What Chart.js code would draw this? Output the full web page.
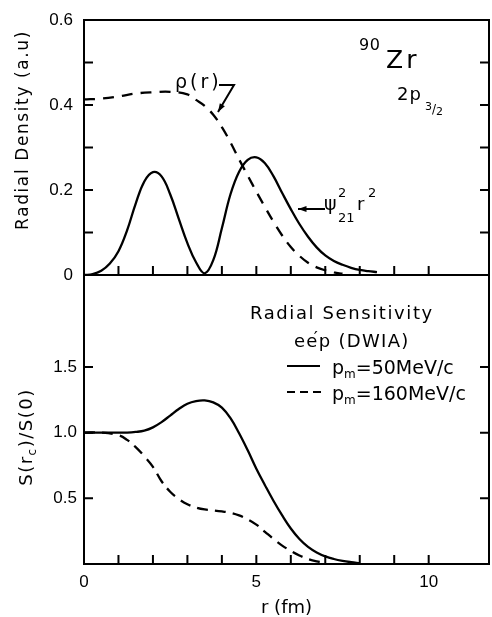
<!DOCTYPE html>
<html><head><meta charset="utf-8">
<script src="https://cdn.jsdelivr.net/npm/chart.js@4/dist/chart.umd.min.js"></script>
<style>
html,body{margin:0;padding:0;background:#fff;}
#wrap{position:relative;width:492px;height:617px;overflow:hidden;background:#fff;}
#cTop{position:absolute;left:0;top:0;}
#cBot{position:absolute;left:0;top:270px;}
</style></head><body>
<div id="wrap">
<canvas id="cTop" width="492" height="280"></canvas>
<canvas id="cBot" width="492" height="347"></canvas>
</div>
<script>
// ---------- data ----------
const xMax = 11.75;
const xLabelled = [0, 5, 10];
const topYLabelled = [0, 0.2, 0.4, 0.6];
const botYTicks = [0.5, 1.0, 1.5];

// upper panel: psi^2_21 r^2 (solid) and rho(r) (dashed)
const rPsi  = [0,0.25,0.5,0.75,1,1.25,1.5,1.75,2,2.25,2.5,2.75,3,3.25,3.5,3.75,4,4.25,4.5,4.75,5,5.25,5.5,5.75,6,6.25,6.5,6.75,7,7.25,7.5,7.75,8,8.25,8.5];
const psiSq = [0,0.002,0.01,0.027,0.056,0.105,0.168,0.22,0.242,0.232,0.19,0.132,0.075,0.03,0.004,0.035,0.11,0.19,0.243,0.271,0.277,0.263,0.232,0.193,0.155,0.12,0.09,0.065,0.046,0.033,0.024,0.017,0.012,0.009,0.007];
const rRho  = [0,0.5,1,1.5,2,2.5,3,3.25,3.5,3.75,4,4.25,4.5,4.75,5,5.25,5.5,5.75,6,6.25,6.5,6.75,7,7.25,7.5];
const rho   = [0.413,0.415,0.42,0.427,0.43,0.431,0.425,0.412,0.398,0.377,0.348,0.312,0.272,0.234,0.196,0.16,0.125,0.093,0.066,0.045,0.029,0.018,0.011,0.006,0.003];

// lower panel: S(rc)/S(0)
const rS50  = [0,0.5,1,1.25,1.5,1.75,2,2.25,2.5,2.75,3,3.25,3.5,3.75,4,4.25,4.5,4.75,5,5.25,5.5,5.75,6,6.25,6.5,6.75,7,7.25,7.5,7.75,8];
const s50   = [1,1,1,1,1.005,1.015,1.04,1.08,1.13,1.18,1.22,1.24,1.245,1.23,1.19,1.11,0.995,0.865,0.725,0.6,0.48,0.37,0.27,0.19,0.13,0.088,0.058,0.038,0.024,0.014,0.006];
const rS160 = [0,0.5,1,1.25,1.5,1.75,2,2.25,2.5,2.75,3,3.25,3.5,3.75,4,4.25,4.5,4.75,5,5.25,5.5,5.75,6,6.25,6.5,6.75,7];
const s160  = [1,1,0.98,0.945,0.89,0.82,0.74,0.63,0.55,0.495,0.455,0.43,0.415,0.408,0.4,0.39,0.37,0.34,0.3,0.245,0.19,0.14,0.1,0.065,0.038,0.02,0.008];

// ---------- helpers ----------
const FAM = 'DejaVu Sans';
const tickFont = {family:'Liberation Sans', size:17};
function mkData(xs, ys){ return xs.map((x,i)=>({x:x, y:ys[i]})); }

function rich(ctx, runs, x, y, opts){
  opts = opts || {};
  ctx.save();
  ctx.fillStyle = '#000';
  ctx.textBaseline = 'alphabetic';
  ctx.textAlign = 'left';
  let total = 0;
  runs.forEach(r=>{
    ctx.font = r.size + 'px "' + FAM + '"';
    ctx.letterSpacing = ((r.ls!=null?r.ls:(opts.ls||0))) + 'px';
    r._w = r.noAdv ? 0 : ctx.measureText(r.t).width;
    total += r._w;
  });
  ctx.translate(x, y);
  if (opts.rot) ctx.rotate(opts.rot);
  let cx = opts.center ? -total/2 : 0;
  runs.forEach(r=>{
    ctx.font = r.size + 'px "' + FAM + '"';
    ctx.letterSpacing = ((r.ls!=null?r.ls:(opts.ls||0))) + 'px';
    ctx.fillText(r.t, cx + (r.dx||0), r.dy||0);
    cx += r._w;
  });
  ctx.restore();
}
function arrow(ctx, pts){
  ctx.save();
  ctx.strokeStyle='#000'; ctx.fillStyle='#000'; ctx.lineWidth=2;
  ctx.beginPath(); ctx.moveTo(pts[0][0], pts[0][1]);
  for (let i=1;i<pts.length;i++) ctx.lineTo(pts[i][0], pts[i][1]);
  ctx.stroke();
  const [x2,y2] = pts[pts.length-1], [x1,y1] = pts[pts.length-2];
  const a = Math.atan2(y2-y1, x2-x1), L = 9, w = 0.33;
  ctx.beginPath(); ctx.moveTo(x2,y2);
  ctx.lineTo(x2 - L*Math.cos(a-w), y2 - L*Math.sin(a-w));
  ctx.lineTo(x2 - L*Math.cos(a+w), y2 - L*Math.sin(a+w));
  ctx.closePath(); ctx.fill();
  ctx.restore();
}
function seg(ctx, x1,y1,x2,y2, dash){
  ctx.save(); ctx.strokeStyle='#000'; ctx.lineWidth=2.2; ctx.setLineDash(dash||[]);
  ctx.beginPath(); ctx.moveTo(x1,y1); ctx.lineTo(x2,y2); ctx.stroke(); ctx.restore();
}

// frame + inward tick marks drawn from the chart's own scales
const frameTicks = {
  id:'frameTicks',
  afterDatasetsDraw(chart){
    const {ctx, chartArea:a} = chart; const xs = chart.scales.x, ys = chart.scales.y;
    const L = 9;
    ctx.save(); ctx.strokeStyle='#000'; ctx.lineWidth=2;
    ctx.beginPath();
    ctx.moveTo(a.left, a.top); ctx.lineTo(a.right, a.top); ctx.lineTo(a.right, a.bottom);
    xs.ticks.forEach(t=>{ const v=t.value;
      if (v>xs.min+1e-9 && v<xs.max-1e-9 && Math.abs(v-Math.round(v))<1e-6){
        const p = xs.getPixelForValue(v); ctx.moveTo(p, a.bottom); ctx.lineTo(p, a.bottom-L);
      }});
    ys.ticks.forEach(t=>{ const v=t.value;
      if (v>ys.min+1e-9 && v<ys.max-1e-9){
        const p = ys.getPixelForValue(v);
        ctx.moveTo(a.left, p); ctx.lineTo(a.left+L, p);
        ctx.moveTo(a.right, p); ctx.lineTo(a.right-L, p);
      }});
    ctx.stroke(); ctx.restore();
  }
};

const topNotes = {
  id:'topNotes',
  afterDraw(chart){
    const ctx = chart.ctx;
    rich(ctx, [{t:'Radial Density (a.u)', size:17}], 28, 130, {rot:-Math.PI/2, center:true, ls:1.6});
    rich(ctx, [{t:'90', size:16}], 359, 50, {ls:0.5});
    rich(ctx, [{t:'Zr', size:25}], 386, 68, {ls:3});
    rich(ctx, [{t:'2p', size:18}], 397, 100, {ls:1});
    rich(ctx, [{t:'3', size:11, dy:-3},{t:'/', size:12},{t:'2', size:11, dy:2}], 425, 113, {});
    rich(ctx, [{t:'ρ(r)', size:19}], 175, 88, {ls:3});
    arrow(ctx, [[219,85],[234,85],[218,112]]);
    rich(ctx, [{t:'ψ', size:19}], 324, 210, {});
    rich(ctx, [{t:'2', size:13}], 338, 197, {});
    rich(ctx, [{t:'21', size:13}], 338, 222, {});
    rich(ctx, [{t:'r', size:18}], 357, 210, {});
    rich(ctx, [{t:'2', size:13}], 368, 197, {});
    arrow(ctx, [[325,209],[298,209]]);
  }
};

const OFF = 270;
const botNotes = {
  id:'botNotes',
  afterDraw(chart){
    const ctx = chart.ctx;
    rich(ctx, [{t:'S(r', size:18},{t:'c', size:12, dy:4},{t:')/S(0)', size:18}], 32, 437-OFF, {rot:-Math.PI/2, center:true, ls:1.5});
    rich(ctx, [{t:'Radial Sensitivity', size:18}], 250, 319-OFF, {ls:1.6});
    rich(ctx, [{t:'e', size:18},{t:'e', size:18},{t:'′', size:18, dx:-5, dy:-3, noAdv:true},{t:'p (DWIA)', size:18}], 294, 347-OFF, {ls:1.3});
    seg(ctx, 287, 366-OFF, 320, 366-OFF);
    rich(ctx, [{t:'p', size:19},{t:'m', size:12, dy:4},{t:'=50MeV/c', size:19}], 332, 374-OFF, {});
    seg(ctx, 287, 392-OFF, 322, 392-OFF, [8,5]);
    rich(ctx, [{t:'p', size:19},{t:'m', size:12, dy:4},{t:'=160MeV/c', size:19}], 332, 400-OFF, {});
  }
};

const lineDs = (label, xs, ys, dash) => ({
  label: label, data: mkData(xs, ys), borderColor:'#000', backgroundColor:'#000',
  borderWidth:2.3, borderDash: dash||[], pointRadius:0, fill:false, tension:0.4
});
const fitY = s => { s.width = 84; s.paddingTop = 0; s.paddingBottom = 0; };

new Chart(document.getElementById('cTop'), {
  type:'line',
  data:{datasets:[
    lineDs('ψ²₂₁ r²', rPsi, psiSq),
    lineDs('ρ(r)', rRho, rho, [11,8])
  ]},
  options:{
    responsive:false, animation:false, events:[],
    layout:{padding:{top:20, right:3, bottom:5, left:0}},
    plugins:{legend:{display:false}, tooltip:{enabled:false}},
    scales:{
      x:{type:'linear', min:0, max:xMax,
         ticks:{display:false, stepSize:1, autoSkip:false},
         grid:{display:false, drawTicks:false},
         border:{display:true, color:'#000', width:2},
         afterFit:s=>{s.height=0; s.paddingLeft=0; s.paddingRight=0;}},
      y:{type:'linear', min:0, max:0.6,
         ticks:{stepSize:0.1, autoSkip:false, padding:11, color:'#000', font:tickFont,
                callback:v=>{ const k=Math.round(v*10)/10; const hit = topYLabelled.find(t=>Math.abs(t-k)<1e-9);
                              return hit===undefined ? '' : (hit===0 ? '0' : hit.toFixed(1)); }},
         grid:{display:false, drawTicks:false},
         border:{display:true, color:'#000', width:2},
         afterFit:fitY}
    }
  },
  plugins:[frameTicks, topNotes]
});

new Chart(document.getElementById('cBot'), {
  type:'line',
  data:{datasets:[
    lineDs('pm=50MeV/c', rS50, s50),
    lineDs('pm=160MeV/c', rS160, s160, [11,7])
  ]},
  options:{
    responsive:false, animation:false, events:[],
    layout:{padding:{top:5, right:3, bottom:0, left:0}},
    plugins:{legend:{display:false}, tooltip:{enabled:false}},
    scales:{
      x:{type:'linear', min:0, max:xMax,
         ticks:{stepSize:1, autoSkip:false, maxRotation:0, padding:8, color:'#000', font:tickFont,
                callback:v=> xLabelled.includes(v) ? String(v) : ''},
         grid:{display:false, drawTicks:false},
         border:{display:true, color:'#000', width:2},
         title:{display:true, text:'r (fm)', color:'#000', font:{family:FAM, size:18, lineHeight:1}, padding:{top:0, bottom:0}},
         afterFit:s=>{s.height=53; s.paddingLeft=0; s.paddingRight=0;}},
      y:{type:'linear', min:0, max:2.2,
         afterBuildTicks:s=>{ s.ticks = botYTicks.map(v=>({value:v})); },
         ticks:{padding:7, color:'#000', font:tickFont, callback:v=>Number(v).toFixed(1)},
         grid:{display:false, drawTicks:false},
         border:{display:true, color:'#000', width:2},
         afterFit:fitY}
    }
  },
  plugins:[frameTicks, botNotes]
});
</script>
</body></html>
